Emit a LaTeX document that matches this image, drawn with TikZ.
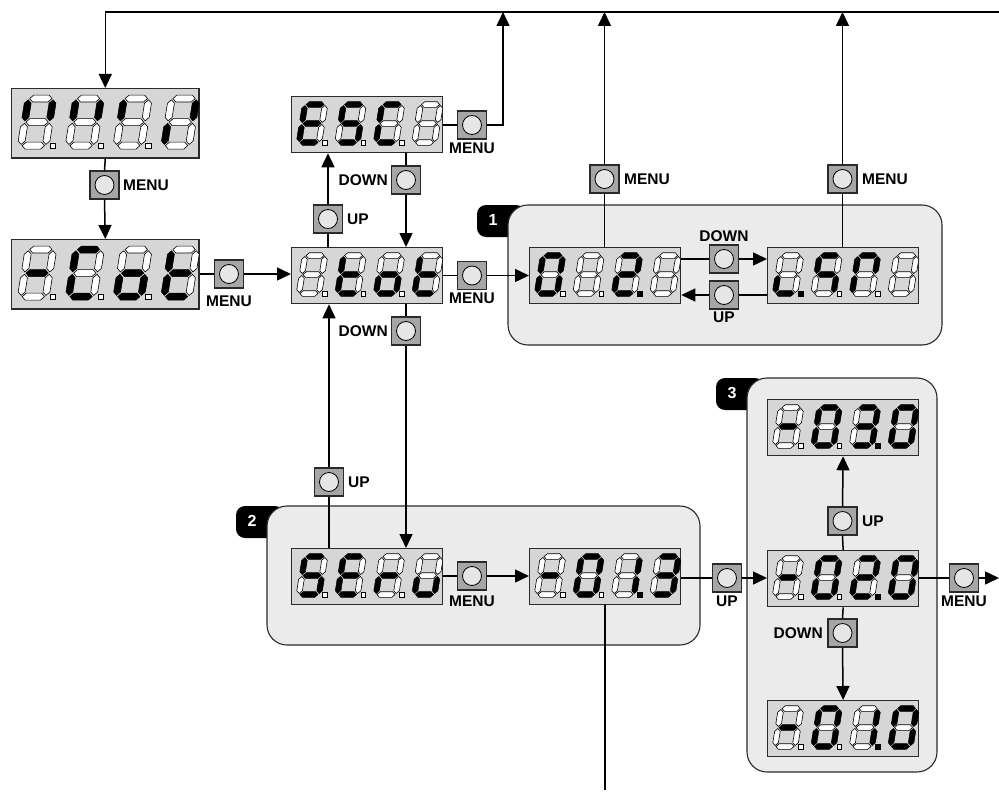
\documentclass[tikz,border=0pt]{standalone}
\usepackage{fontspec}
\setsansfont{Liberation Sans}
\usetikzlibrary{arrows.meta,calc}
\definecolor{dispfill}{HTML}{D6D6D6}
\definecolor{grpfill}{HTML}{EBEBEB}
\definecolor{btnfill}{HTML}{A6A6A6}
\definecolor{btnin}{HTML}{E6E6E6}
\definecolor{edge}{HTML}{2A2A2A}
\makeatletter
\newcommand\segdraw[3]{\in@{#1}{#2}\ifin@\filldraw[black,line width=0.5pt] #3;\else\filldraw[fill=white,draw=black,line width=0.6pt] #3;\fi}
\makeatother
\newcommand\hsg[1]{(1,#1) -- (3.8,#1+2.8) -- (16.2,#1+2.8) -- (19,#1) -- (16.2,#1-2.8) -- (3.8,#1-2.8) -- cycle}
\newcommand\vsg[3]{(#1,#2+1) -- (#1+2.8,#2+3.8) -- (#1+2.8,#3-3.8) -- (#1,#3-1) -- (#1-2.8,#3-3.8) -- (#1-2.8,#2+3.8) -- cycle}
\newcommand\digit[2]{%
 \begin{scope}[shift={(#1,46.5)},yscale=-1,xslant=-0.16]
 \segdraw{a}{#2}{\hsg{38}}
 \segdraw{g}{#2}{\hsg{19}}
 \segdraw{d}{#2}{\hsg{0}}
 \segdraw{f}{#2}{\vsg{0}{19}{38}}
 \segdraw{e}{#2}{\vsg{0}{0}{19}}
 \segdraw{b}{#2}{\vsg{20}{19}{38}}
 \segdraw{c}{#2}{\vsg{20}{0}{19}}
 \end{scope}}
\newcommand\dpt[2]{%
 \begin{scope}[shift={(#1,46.5)},yscale=-1]
 \segdraw{p}{#2}{(23.6,-2.5) rectangle (28.1,2)}
 \end{scope}}
\newcommand\disp[8]{%
 \node[dispbox,minimum width={151*#4},minimum height={56*#4},anchor=north west] (#1) at (#2,#3) {};
 \begin{scope}[shift={(#2,#3)},scale=#4]
 \digit{8}{#5}\dpt{8}{#5}
 \digit{46.5}{#6}\dpt{46.5}{#6}
 \digit{85}{#7}\dpt{85}{#7}
 \digit{123.5}{#8}
 \end{scope}}
\tikzset{
 dispbox/.style={draw=edge,fill=dispfill,line width=1.3pt,inner sep=0pt},
 grp/.style={draw=edge,fill=grpfill,line width=1.1pt,rounded corners=20pt},
 tab/.style={fill=black,rounded corners=9pt},
 tabnum/.style={text=white,font=\sffamily\bfseries\fontsize{16}{16}\selectfont,inner sep=0pt},
 btn/.style={draw=edge,fill=btnfill,line width=1.1pt,minimum width=29pt,minimum height=28pt,inner sep=0pt,
   path picture={\filldraw[fill=btnin,draw=black,line width=0.8pt] (path picture bounding box.center) circle (9.5pt);}},
 lab/.style={font=\sffamily\bfseries\fontsize{15.5}{15.5}\selectfont,inner sep=0pt},
 ln/.style={draw=black,line width=1.5pt},
 arr/.style={ln,-{Triangle[length=14pt,width=13pt]}}
}
\begin{document}
\begin{tikzpicture}[x=1pt,y=-1pt]
\useasboundingbox[fill=white] (0,0) rectangle (999,792);
% groups
\fill[tab] (477,205) rectangle (525,237);
\draw[grp] (508,205) rectangle (942,345);
\node[tabnum] (n1) at (493,220) {1};
\fill[tab] (236,506) rectangle (284,538);
\draw[grp] (267,506) rectangle (700,645);
\node[tabnum] (n2) at (252,521) {2};
\fill[tab] (716,378) rectangle (764,410);
\draw[grp] (747,378) rectangle (937,772);
\node[tabnum] (n3) at (732,393) {3};
% displays
\disp{A}{11}{88}{1.24}{fb}{fb}{f}{be}
\disp{B}{11}{239}{1.24}{g}{afed}{gecd}{fedg}
\disp{ESC}{291}{96}{1}{afged}{afgcd}{afed}{}
\disp{tot}{291}{247}{1}{}{fedg}{gecd}{fedg}
\disp{GL}{529}{247}{1}{abcdef}{}{abgedp}{}
\disp{GR}{767}{247}{1}{edp}{afgc}{afbe}{}
\disp{SErv}{291}{548}{1}{afgcd}{afged}{ge}{edc}
\disp{GTR}{529}{548}{1}{g}{abcdef}{bcp}{abgcd}
\disp{TT}{767}{399}{1}{g}{abcdef}{abgcdp}{abcdef}
\disp{TM}{767}{550}{1}{g}{abcdef}{abgedp}{abcdef}
\disp{TB}{767}{700}{1}{g}{abcdef}{bcp}{abcdef}
% buttons
\node[btn] (b1) at (104.5,185) {};
\node[btn] (b2) at (229,274) {};
\node[btn] (bEM) at (472,125) {};
\node[btn] (bED) at (406,180) {};
\node[btn] (bU1) at (328,219) {};
\node[btn] (bTM) at (472,275.5) {};
\node[btn] (bTD) at (406,331) {};
\node[btn] (bU2) at (329,482) {};
\node[btn] (bGML) at (604.5,179) {};
\node[btn] (bGMR) at (842.5,179) {};
\node[btn] (bGD) at (724,259) {};
\node[btn] (bGU) at (724,295) {};
\node[btn] (bSM) at (472,576) {};
\node[btn] (bU3) at (727,578) {};
\node[btn] (bTU) at (842.5,521) {};
\node[btn] (bTDn) at (842.5,633) {};
\node[btn] (bTMn) at (964,578) {};
% labels
\node[lab,anchor=west] (l1) at (123,185) {MENU};
\node[lab] (l2) at (229,301) {MENU};
\node[lab] (l3) at (472,148) {MENU};
\node[lab,anchor=east] (l4) at (388,180) {DOWN};
\node[lab,anchor=west] (l5) at (347,219) {UP};
\node[lab] (l6) at (472,298) {MENU};
\node[lab,anchor=east] (l7) at (388,331) {DOWN};
\node[lab,anchor=west] (l8) at (348,482) {UP};
\node[lab,anchor=west] (l9) at (624,179) {MENU};
\node[lab,anchor=west] (l10) at (862,179) {MENU};
\node[lab] (l11) at (724,236) {DOWN};
\node[lab] (l12) at (724,317) {UP};
\node[lab] (l13) at (472,601) {MENU};
\node[lab] (l14) at (727,601) {UP};
\node[lab,anchor=west] (l15) at (862,521) {UP};
\node[lab,anchor=east] (l16) at (823,633) {DOWN};
\node[lab] (l17) at (964,601) {MENU};
% coordinates
\coordinate (topR) at (999,12);
\coordinate (topL) at (A.north |- topR);
\coordinate (t1) at (503,12);
\coordinate (t2) at (bGML |- topR);
\coordinate (t3) at (bGMR |- topR);
\coordinate (bot) at (GTR.south |- 0,790);
\coordinate (rEnd) at (999,578);
% connectors
\draw[arr] (topR) -- (topL) -- (A.north);
\draw[ln] (A.south) -- (b1.north);
\draw[arr] (b1.south) -- (B.north);
\draw[ln] (B.east |- b2) -- (b2.west);
\draw[arr] (b2.east) -- (tot.west |- b2);
\draw[ln] (ESC.east |- bEM) -- (bEM.west);
\draw[arr] (bEM.east) -| (t1);
\draw[ln] (ESC.south -| bED) -- (bED.north);
\draw[arr] (bED.south) -- (tot.north -| bED);
\draw[ln] (tot.north -| bU1) -- (bU1.south);
\draw[arr] (bU1.north) -- (ESC.south -| bU1);
\draw[ln] (tot.east |- bTM) -- (bTM.west);
\draw[arr] (bTM.east) -- (GL.west |- bTM);
\draw[ln] (tot.south -| bTD) -- (bTD.north);
\draw[arr] (bTD.south) -- (SErv.north -| bTD);
\draw[ln] (SErv.north -| bU2) -- (bU2.south);
\draw[arr] (bU2.north) -- (tot.south -| bU2);
\draw[ln] (GL.north -| bGML) -- (bGML.south);
\draw[arr] (bGML.north) -- (t2);
\draw[ln] (GR.north -| bGMR) -- (bGMR.south);
\draw[arr] (bGMR.north) -- (t3);
\draw[ln] (GL.east |- bGD) -- (bGD.west);
\draw[arr] (bGD.east) -- (GR.west |- bGD);
\draw[ln] (GR.west |- bGU) -- (bGU.east);
\draw[arr] (bGU.west) -- (GL.east |- bGU);
\draw[ln] (SErv.east |- bSM) -- (bSM.west);
\draw[arr] (bSM.east) -- (GTR.west |- bSM);
\draw[ln] (GTR.east |- bU3) -- (bU3.west);
\draw[arr] (bU3.east) -- (TM.west |- bU3);
\draw[ln] (GTR.south) -- (bot);
\draw[ln] (TM.north) -- (bTU.south);
\draw[arr] (bTU.north) -- (TT.south);
\draw[ln] (TM.south) -- (bTDn.north);
\draw[arr] (bTDn.south) -- (TB.north);
\draw[ln] (TM.east |- bTMn) -- (bTMn.west);
\draw[arr] (bTMn.east) -- (rEnd);
\end{tikzpicture}
\end{document}
